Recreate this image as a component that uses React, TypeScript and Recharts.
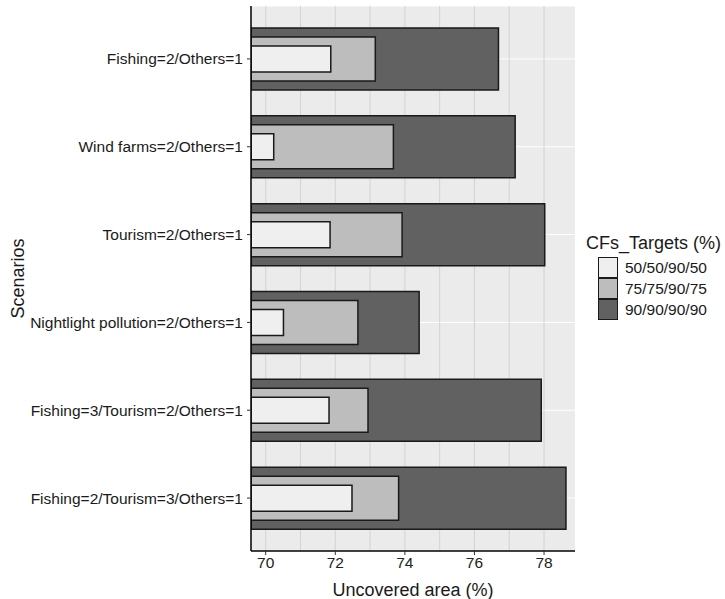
import React from 'react';
import { BarChart, Bar, XAxis, YAxis, CartesianGrid } from 'recharts';

const scenarios = [
  'Fishing=2/Others=1',
  'Wind farms=2/Others=1',
  'Tourism=2/Others=1',
  'Nightlight pollution=2/Others=1',
  'Fishing=3/Tourism=2/Others=1',
  'Fishing=2/Tourism=3/Others=1',
];
const target50 = [71.87, 70.23, 71.85, 70.51, 71.82, 72.48];
const target75 = [73.15, 73.67, 73.92, 72.65, 72.94, 73.82];
const target90 = [76.69, 77.17, 78.02, 74.41, 77.92, 78.63];

const seriesNames = ['50/50/90/50', '75/75/90/75', '90/90/90/90'];
const seriesColors = ['#efefef', '#bdbdbd', '#616161'];
const xTicks = [70, 72, 74, 76, 78];
const gridLines = [70, 71, 72, 73, 74, 75, 76, 77, 78];
const xDomain = [69.577, 78.89];

const data = scenarios.map((s, i) => ({
  scenario: s,
  t50: target50[i],
  t75: target75[i],
  t90: target90[i],
}));

const FONT = "'Liberation Sans', Arial, Helvetica, sans-serif";

const YTitle = (props: any) => {
  const vb = props.viewBox || {};
  const cy = vb.y + vb.height / 2;
  return (
    <text
      x={18}
      y={cy}
      transform={`rotate(-90, 18, ${cy})`}
      textAnchor="middle"
      dominantBaseline="central"
      fontSize={18}
      fill="#1a1a1a"
      fontFamily={FONT}
    >
      Scenarios
    </text>
  );
};

const XTitle = (props: any) => {
  const vb = props.viewBox || {};
  const cx = vb.x + vb.width / 2;
  return (
    <text
      x={cx}
      y={590}
      textAnchor="middle"
      dominantBaseline="central"
      fontSize={18}
      fill="#1a1a1a"
      fontFamily={FONT}
    >
      Uncovered area (%)
    </text>
  );
};

const verticalGen = (args: any) => {
  const xAxis = args && args.xAxis;
  const off = (args && args.offset) || {};
  return gridLines.map((v) => {
    if (xAxis && typeof xAxis.scale === 'function') {
      const s = xAxis.scale(v);
      if (typeof s === 'number' && !isNaN(s)) return s;
    }
    return off.left + ((v - xDomain[0]) / (xDomain[1] - xDomain[0])) * off.width;
  });
};

export default function App() {
  const pad = { top: 9, bottom: 9 };
  return (
    <div style={{ position: 'absolute', left: 0, top: 0, width: 725, height: 599, background: '#fff', fontFamily: FONT }}>
      <BarChart
        width={725}
        height={599}
        data={data}
        layout="vertical"
        margin={{ top: 6, right: 150, bottom: 0, left: 0 }}
      >
        <CartesianGrid yAxisId="dark" vertical={false} horizontal={true} stroke="#ffffff" strokeWidth={1} fill="#ebebeb" />
        <CartesianGrid
          yAxisId="dark"
          horizontal={false}
          vertical={true}
          stroke="#d3d3d3"
          strokeWidth={1}
          verticalCoordinatesGenerator={verticalGen}
        />
        <XAxis
          type="number"
          domain={xDomain}
          allowDataOverflow
          ticks={xTicks}
          tickSize={4}
          tickMargin={2}
          height={48}
          axisLine={{ stroke: '#000', strokeWidth: 1.5 }}
          tickLine={{ stroke: '#333' }}
          tick={{ fontSize: 15.5, fill: '#222', fontFamily: FONT }}
          label={<XTitle />}
        />
        <YAxis
          yAxisId="dark"
          type="category"
          dataKey="scenario"
          width={251}
          padding={pad}
          tickSize={4}
          tickMargin={4}
          axisLine={{ stroke: '#000', strokeWidth: 1.5 }}
          tickLine={{ stroke: '#333' }}
          tick={{ fontSize: 15.5, fill: '#1a1a1a', fontFamily: FONT }}
          interval={0}
          label={<YTitle />}
        />
        <YAxis yAxisId="mid" type="category" dataKey="scenario" hide padding={pad} />
        <YAxis yAxisId="light" type="category" dataKey="scenario" hide padding={pad} />
        <Bar yAxisId="dark" dataKey="t90" name={seriesNames[2]} fill={seriesColors[2]} stroke="#1a1a1a" strokeWidth={1.5} barSize={62} isAnimationActive={false} />
        <Bar yAxisId="mid" dataKey="t75" name={seriesNames[1]} fill={seriesColors[1]} stroke="#1a1a1a" strokeWidth={1.5} barSize={44} isAnimationActive={false} />
        <Bar yAxisId="light" dataKey="t50" name={seriesNames[0]} fill={seriesColors[0]} stroke="#1a1a1a" strokeWidth={1.5} barSize={26} isAnimationActive={false} />
      </BarChart>
      <div style={{ position: 'absolute', left: 586, top: 232, fontFamily: FONT, color: '#1a1a1a' }}>
        <div style={{ fontSize: 18, lineHeight: '22px', whiteSpace: 'nowrap' }}>CFs_Targets (%)</div>
        <div style={{ marginTop: 3, marginLeft: 12 }}>
          {seriesNames.map((n, i) => (
            <div key={n} style={{ display: 'flex', alignItems: 'center', height: 21.3 }}>
              <div
                style={{
                  width: 20,
                  height: 21.3,
                  boxSizing: 'border-box',
                  background: seriesColors[i],
                  border: '1.5px solid #1a1a1a',
                  marginTop: i === 0 ? 0 : -1.5,
                }}
              />
              <span style={{ marginLeft: 7, fontSize: 15.5, whiteSpace: 'nowrap' }}>{n}</span>
            </div>
          ))}
        </div>
      </div>
    </div>
  );
}
